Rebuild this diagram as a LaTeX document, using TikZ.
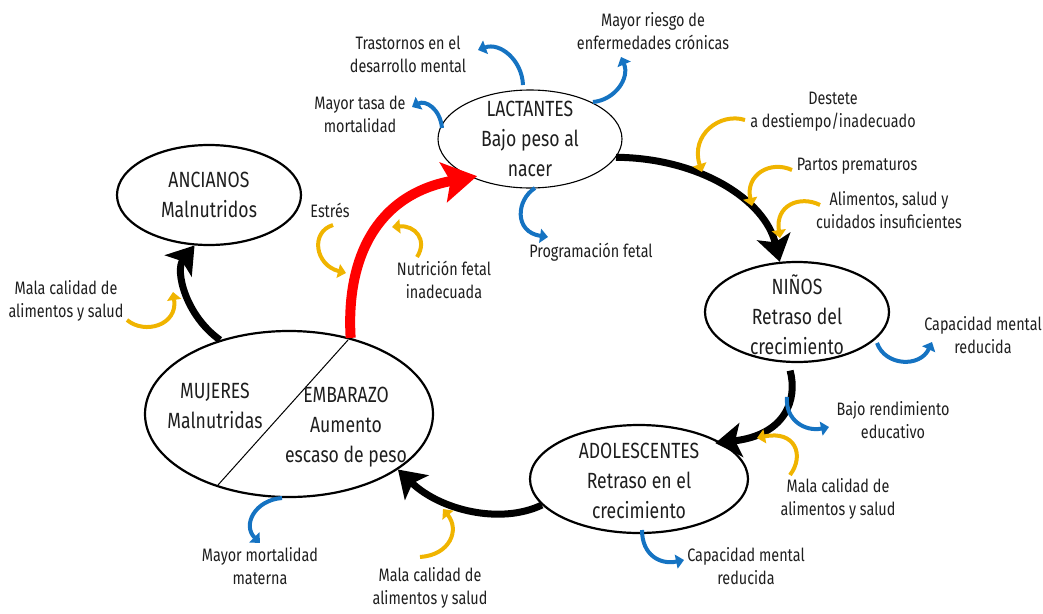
\documentclass[tikz,border=0pt]{standalone}
\usepackage{fontspec}
\setmainfont[FakeStretch=0.8]{Fira Sans}
\usetikzlibrary{arrows.meta,shapes.geometric}
\definecolor{txt}{HTML}{1E1E1E}
\definecolor{cblue}{HTML}{1573C2}
\definecolor{cyel}{HTML}{F0B400}
\definecolor{cred}{HTML}{FF0000}
\begin{document}
\begin{tikzpicture}[x=1pt,y=-1pt,
  ell/.style={ellipse, draw=black, line width=2.2pt, inner sep=0pt},
  big/.style={font=\fontsize{22}{30}\selectfont, align=center, text=txt, inner sep=0pt},
  small/.style={font=\fontsize{18}{23}\selectfont, align=center, text=txt, inner sep=0pt},
  mainarr/.style={draw=black, line width=7pt, -{Stealth[length=26pt,width=34pt,inset=6pt]}},
  redarr/.style={draw=cred, line width=10pt, -{Stealth[length=34pt,width=40pt,inset=7pt]}},
  bluearr/.style={draw=cblue, line width=4pt, -{Triangle[length=8pt,width=14pt]}},
  yelarr/.style={draw=cyel, line width=4pt, -{Triangle[length=8pt,width=14pt]}}
]
\useasboundingbox (0,0) rectangle (1043,613);

% ellipses
\node[ell, line width=1.1pt, minimum width=184pt, minimum height=98pt] (lact) at (530,139) {};
\node[big] (lactT) at (lact) {LACTANTES\\Bajo peso al\\nacer};
\node[ell, minimum width=184pt, minimum height=100pt] (anc) at (209,195) {};
\node[big] (ancT) at (anc) {ANCIANOS\\Malnutridos};
\node[ell, minimum width=184pt, minimum height=100pt] (nino) at (797,312) {};
\node[big] (ninoT) at (797,315) {NIÑOS\\Retraso del\\crecimiento};
\node[ell, minimum width=218pt, minimum height=108pt] (adol) at (639,479) {};
\node[big] (adolT) at (639,481) {ADOLESCENTES\\Retraso en el\\crecimiento};
\node[ell, minimum width=288pt, minimum height=166pt] (muj) at (289,414) {};
\coordinate (dA) at (218,485);
\coordinate (dB) at (348,340);
\draw[line width=1pt] (dA) -- (dB);
\node[big] (mujT) at (215,406) {MUJERES\\Malnutridas};
\node[big] (embT) at (346,427) {EMBARAZO\\Aumento\\escaso de peso};

% main cycle arrows
\draw[mainarr] (lact.-12) .. controls (700,158) and (765,200) .. (nino.109);
\draw[mainarr, shorten <=8pt, shorten >=-6pt] (nino.-100) .. controls (798,400) and (785,435) .. (adol.24);
\draw[mainarr] (adol.-165) .. controls (500,525) and (440,510) .. (muj.-27);
\draw[mainarr] (muj.133) .. controls (185,315) and (175,270) .. (anc.-106);
\draw[redarr, shorten >=-6pt] (muj.51) .. controls (346,260) and (375,195) .. (lact.-147);

% labels
\node[small] (trast) at (408,54) {Trastornos en el\\desarrollo mental};
\node[small] (riesgo) at (653,31) {Mayor riesgo de\\enfermedades crónicas};
\node[small] (tasa) at (360,114) {Mayor tasa de\\mortalidad};
\node[small] (destete) at (833,112) {Destete\\a destiempo/inadecuado};
\node[small] (partos) at (857,166) {Partos prematuros};
\node[small] (alim) at (889,210) {Alimentos, salud y\\cuidados insuficientes};
\node[small] (prog) at (591,252) {Programación fetal};
\node[small] (estres) at (330,210) {Estrés};
\node[small] (nutri) at (444,280) {Nutrición fetal\\inadecuada};
\node[small] (malaL) at (66,301) {Mala calidad de\\alimentos y salud};
\node[small] (capR) at (983,335) {Capacidad mental\\reducida};
\node[small] (bajo) at (893,420) {Bajo rendimiento\\educativo};
\node[small] (malaR) at (838,499) {Mala calidad de\\alimentos y salud};
\node[small] (capB) at (746,566) {Capacidad mental\\reducida};
\node[small] (mort) at (260,566) {Mayor mortalidad\\materna};
\node[small] (malaB) at (430,588) {Mala calidad de\\alimentos y salud};

% blue consequence arrows
\draw[bluearr] (523,85) .. controls (522,60) and (500,42) .. (478,50);
\draw[bluearr] (442,128) .. controls (440,108) and (425,100) .. (412,107);
\draw[bluearr] (593,102) .. controls (615,100) and (630,78) .. (621,57);
\draw[bluearr] (535,188) .. controls (516,200) and (514,232) .. (548,237);
\draw[bluearr] (877,343) .. controls (885,366) and (920,368) .. (932,342);
\draw[bluearr] (787,397) .. controls (785,420) and (805,432) .. (829,427);
\draw[bluearr] (642,530) .. controls (642,555) and (660,565) .. (684,560);
\draw[bluearr] (282,498) .. controls (255,500) and (242,525) .. (260,543);

% yellow cause arrows
\draw[yelarr] (745,120) .. controls (720,112) and (690,135) .. (702,172);
\draw[yelarr] (792,170) .. controls (770,160) and (745,175) .. (752,206);
\draw[yelarr] (820,205) .. controls (800,195) and (775,205) .. (780,238);
\draw[yelarr] (790,475) .. controls (805,455) and (795,430) .. (757,438);
\draw[yelarr] (420,557) .. controls (450,555) and (460,530) .. (443,509);
\draw[yelarr] (127,320) .. controls (145,335) and (178,325) .. (173,292);
\draw[yelarr] (333,225) .. controls (310,232) and (315,265) .. (346,273);
\draw[yelarr] (417,257) .. controls (428,240) and (415,225) .. (392,227);
\end{tikzpicture}
\end{document}
